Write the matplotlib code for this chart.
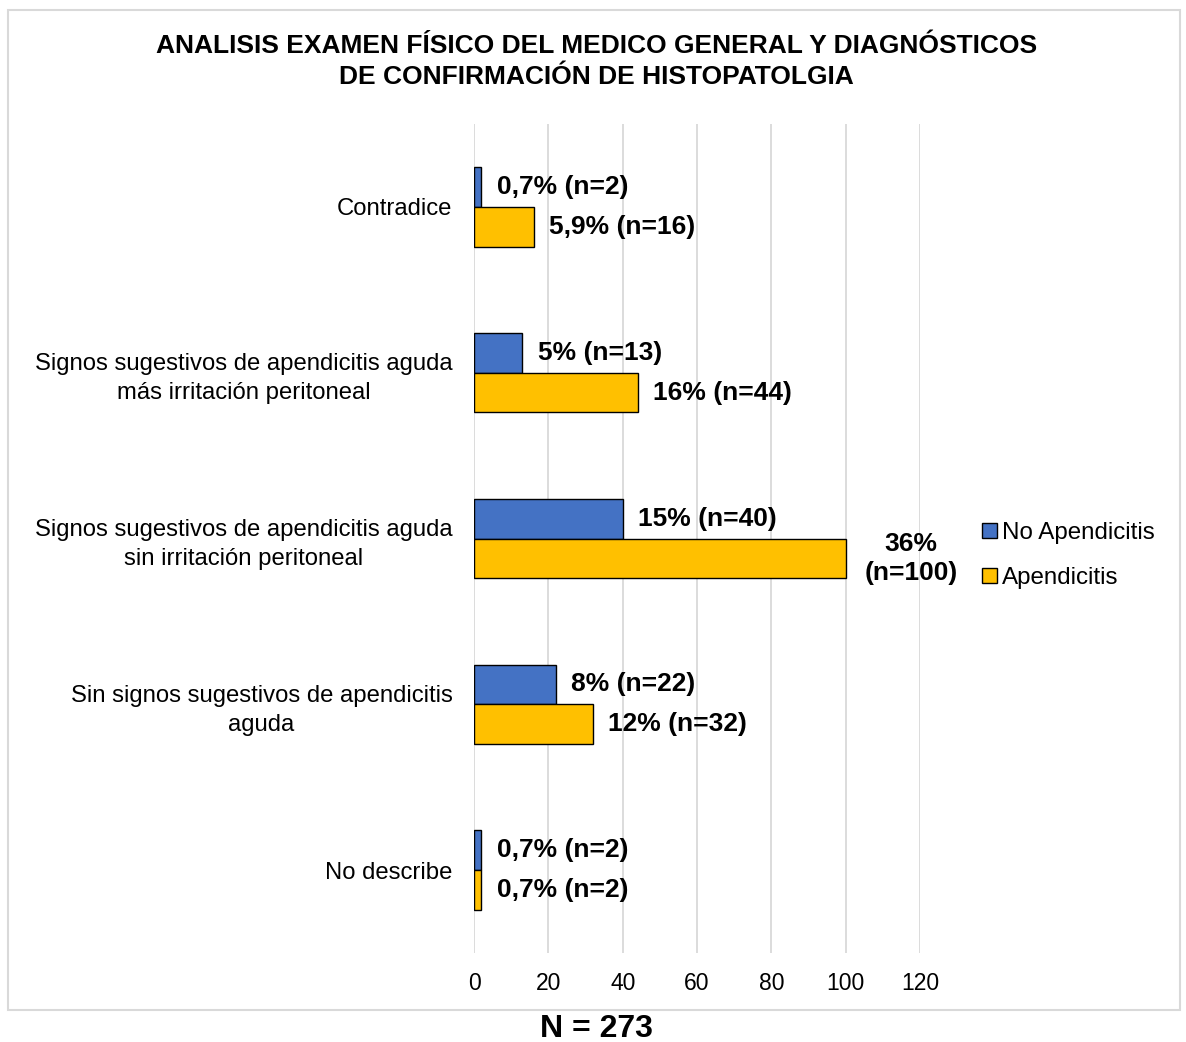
import matplotlib.pyplot as plt
from matplotlib.patches import Rectangle, Patch

plt.rcParams['font.family'] = ['Liberation Sans', 'DejaVu Sans']

# Datos del gráfico
categorias = [
    'Contradice',
    'Signos sugestivos de apendicitis aguda\nmás irritación peritoneal',
    'Signos sugestivos de apendicitis aguda\nsin irritación peritoneal',
    'Sin signos sugestivos de apendicitis\naguda',
    'No describe',
]
no_apendicitis = [2, 13, 40, 22, 2]
apendicitis = [16, 44, 100, 32, 2]
etiquetas_no = ['0,7% (n=2)', '5% (n=13)', '15% (n=40)', '8% (n=22)', '0,7% (n=2)']
etiquetas_si = ['5,9% (n=16)', '16% (n=44)', '36%\n(n=100)', '12% (n=32)', '0,7% (n=2)']

azul = '#4472C4'
amarillo = '#FFC000'

fig = plt.figure(figsize=(11.86, 10.42), dpi=100)
ax = fig.add_axes([0.3997, 0.0854, 0.376, 0.7956])

pos = list(range(len(categorias)))
alto = 0.24
ax.barh([p - alto / 2 for p in pos], no_apendicitis, height=alto, color=azul,
        edgecolor='black', linewidth=1, zorder=3)
ax.barh([p + alto / 2 for p in pos], apendicitis, height=alto, color=amarillo,
        edgecolor='black', linewidth=1, zorder=3)

# Etiquetas de valores
for p, v, t in zip(pos, no_apendicitis, etiquetas_no):
    ax.annotate(t, (v, p - alto / 2), xytext=(11, 0), textcoords='offset points',
                ha='left', va='center', fontsize=19, fontweight='bold')
for p, v, t in zip(pos, apendicitis, etiquetas_si):
    if '\n' in t:
        ax.annotate(t, (v, p + alto / 2), xytext=(47, 0), textcoords='offset points',
                    ha='center', va='center', fontsize=19, fontweight='bold',
                    multialignment='center', linespacing=1.3)
    else:
        ax.annotate(t, (v, p + alto / 2), xytext=(11, 0), textcoords='offset points',
                    ha='left', va='center', fontsize=19, fontweight='bold')

ax.set_xlim(0, 120)
ax.set_ylim(4.5, -0.5)
ax.set_xticks(range(0, 121, 20))
ax.set_yticks(pos)
ax.set_yticklabels(categorias, fontsize=17.2, multialignment='center', linespacing=1.4)
ax.tick_params(axis='x', labelsize=16.5, length=0, pad=14)
ax.tick_params(axis='y', length=0, pad=15.5)
ax.grid(axis='x', color='#D9D9D9', linewidth=1.3, zorder=0)
for s in ax.spines.values():
    s.set_visible(False)

# Leyenda
handles = [Patch(facecolor=azul, edgecolor='black', label='No Apendicitis'),
           Patch(facecolor=amarillo, edgecolor='black', label='Apendicitis')]
fig.legend(handles=handles, loc='center left', bbox_to_anchor=(0.818, 0.467),
           frameon=False, fontsize=17.4, handlelength=0.62, handleheight=0.62,
           handletextpad=0.2, labelspacing=0.95, borderpad=0)

# Título
fig.text(0.503, 0.941, 'ANALISIS EXAMEN FÍSICO DEL MEDICO GENERAL Y DIAGNÓSTICOS\n'
         'DE CONFIRMACIÓN DE HISTOPATOLGIA', ha='center', va='center',
         fontsize=19, fontweight='bold', linespacing=1.35)

# Marco del gráfico
fig.patches.append(Rectangle((8 / 1186, 1 - 1010 / 1042), 1172 / 1186, 1000 / 1042,
                             transform=fig.transFigure, fill=False,
                             edgecolor='#D9D9D9', linewidth=1.5))

fig.text(0.503, 0.0125, 'N = 273', ha='center', va='center', fontsize=23,
         fontweight='bold')

fig.savefig('out.png', dpi=100)
